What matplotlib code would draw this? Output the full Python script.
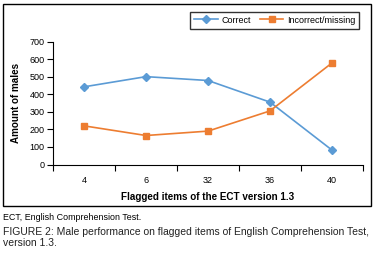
import numpy as np
import matplotlib.pyplot as plt
from matplotlib.patches import Rectangle

plt.rcParams['font.family'] = ['Liberation Sans', 'DejaVu Sans']

items = ['4', '6', '32', '36', '40']
correct = [442, 500, 478, 355, 82]
incorrect = [220, 165, 190, 305, 578]
yticks = [0, 100, 200, 300, 400, 500, 600, 700]

W, H = 376., 261.
fig = plt.figure(figsize=(W / 100, H / 100), dpi=100)

# axes placed in pixel terms
left, right, top, bottom = 53, 363, 41.5, 164.5
ax = fig.add_axes([left / W, 1 - bottom / H, (right - left) / W, (bottom - top) / H])

x = np.arange(len(items))
ax.plot(x, correct, color='#5b9bd5', marker='D', markersize=4.5, lw=1.2, label='Correct')
ax.plot(x, incorrect, color='#ed7d31', marker='s', markersize=5, lw=1.2, label='Incorrect/missing')

ax.set_xlim(-0.5, len(items) - 0.5)
ax.set_ylim(0, 700)
ax.set_yticks(yticks)
ax.set_xticks(x)
ax.set_xticklabels(items)
ax.set_xticks(np.arange(len(items) + 1) - 0.5, minor=True)
ax.tick_params(axis='x', which='major', length=0, labelsize=6.5, pad=8)
ax.tick_params(axis='x', which='minor', length=4, width=0.8, direction='out')
ax.tick_params(axis='y', labelsize=6.5, length=4, width=0.8, direction='out', pad=2)
for s in ['top', 'right']:
    ax.spines[s].set_visible(False)
ax.spines['left'].set_linewidth(0.8)
ax.spines['bottom'].set_linewidth(0.8)

ax.set_xlabel('Flagged items of the ECT version 1.3', fontsize=7.1, fontweight='bold', labelpad=5)
ax.set_ylabel('Amount of males', fontsize=7.1, fontweight='bold', labelpad=6)

leg = fig.legend(loc='upper right', bbox_to_anchor=(364 / W, 1 - 7 / H), ncol=2, fontsize=6.5,
                 frameon=True, fancybox=False, edgecolor='black', handlelength=2.6,
                 columnspacing=1.0, handletextpad=0.4, borderpad=0.45)
leg.get_frame().set_linewidth(1.0)

# chart border
fig.patches.append(Rectangle((3 / W, 1 - 206 / H), 368 / W, 202 / H, transform=fig.transFigure,
                             fill=False, edgecolor='black', linewidth=1.0))

fig.text(3 / W, 1 - 217 / H, 'ECT, English Comprehension Test.', fontsize=6.4, va='center')
fig.text(3 / W, 1 - 232 / H, 'FIGURE 2: Male performance on flagged items of English Comprehension Test,',
         fontsize=7.5, va='center', color='#222222')
fig.text(3 / W, 1 - 243 / H, 'version 1.3.', fontsize=7.5, va='center', color='#222222')

fig.savefig('out.png', dpi=100)
